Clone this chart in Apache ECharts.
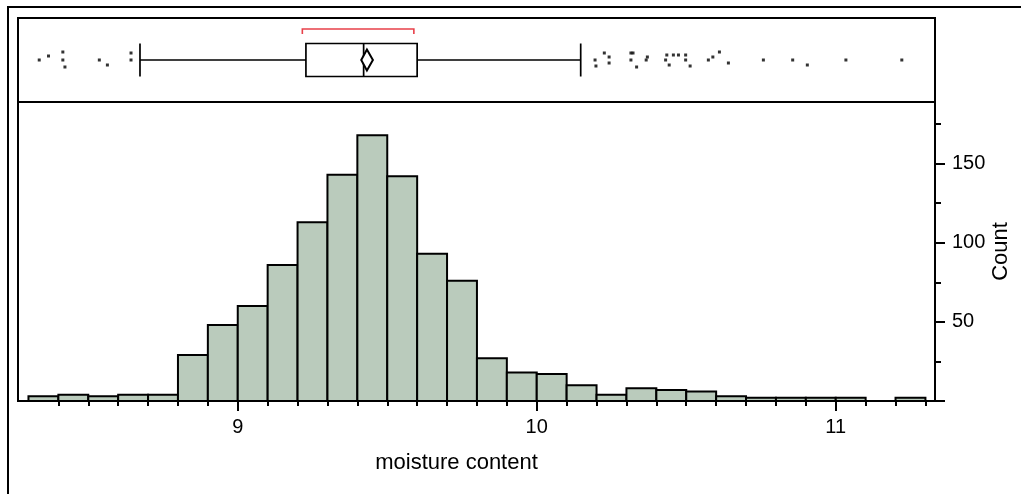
<!DOCTYPE html>
<html>
<head>
<meta charset="utf-8">
<title>moisture content</title>
<script src="https://cdn.jsdelivr.net/npm/echarts@6/dist/echarts.min.js"></script>
<style>
html, body { margin: 0; padding: 0; background: #fff; }
#main { width: 1021px; height: 494px; }
</style>
</head>
<body>
<div id="main"></div>
<script>
// histogram: left edge of each bin, bin width and counts
const binStarts = [8.3, 8.4, 8.5, 8.6, 8.7, 8.8, 8.9, 9.0, 9.1, 9.2, 9.3, 9.4, 9.5, 9.6, 9.7,
  9.8, 9.9, 10.0, 10.1, 10.2, 10.3, 10.4, 10.5, 10.6, 10.7, 10.8, 10.9, 11.0, 11.1, 11.2]
const binWidth = 0.1
const counts = [3, 4, 3, 4, 4, 29, 48, 60, 86, 113, 143, 168, 142, 93, 76,
  27, 18, 17, 10, 4, 8, 7, 6, 3, 2, 2, 2, 2, 0, 2]

// box plot: whisker low, Q1, median, Q3, whisker high
const boxStats = [8.673, 9.228, 9.421, 9.600, 10.147]
const meanValue = 9.432
const meanCI = [9.413, 9.452]
const shortestHalf = [9.216, 9.589]

// outliers: [value, vertical jitter]
const outliers = [
  [8.336, 0], [8.367, 4], [8.415, 8], [8.415, 0], [8.422, -7], [8.537, 0], [8.564, -5], [8.643, 7], [8.643, 0],
  [10.195, 0], [10.198, -6], [10.226, 7], [10.242, 3], [10.242, -3], [10.315, 7], [10.322, 7], [10.315, 0],
  [10.334, -7], [10.366, 0], [10.370, 3], [10.435, 5], [10.431, 0], [10.443, -5], [10.457, 5], [10.474, 5],
  [10.498, 5], [10.498, 0], [10.513, -6], [10.574, 0], [10.589, 3], [10.611, 8], [10.641, -3], [10.758, 0],
  [10.856, 0], [10.905, -5], [11.034, 0], [11.221, 0]
]

// axis ticks
const xMajorTicks = [9, 10, 11]
const xMinorTicks = [8.4, 8.5, 8.6, 8.7, 8.8, 8.9, 9.1, 9.2, 9.3, 9.4, 9.5, 9.6, 9.7, 9.8, 9.9,
  10.1, 10.2, 10.3, 10.4, 10.5, 10.6, 10.7, 10.8, 10.9, 11.1, 11.2, 11.3]
const yLabelTicks = [50, 100, 150]
const yMajorTicks = [0, 50, 100, 150]
const yMinorTicks = [25, 75, 125, 175]

const xMin = 8.265
const xMax = 11.332
const font = '"Liberation Sans", Arial, sans-serif'
const black = '#000'

const chart = echarts.init(document.getElementById('main'))

const option = {
  animation: false,
  graphic: [
    {
      type: 'rect',
      silent: true,
      shape: { x: 8, y: 7, width: 1100, height: 600 },
      style: { fill: 'none', stroke: black, lineWidth: 2 }
    }
  ],
  grid: [
    { left: 18, top: 18, width: 917, height: 84, show: true, borderColor: black, borderWidth: 2, outerBoundsMode: 'none' },
    { left: 18, top: 102, width: 917, height: 299, show: true, borderColor: black, borderWidth: 2, outerBoundsMode: 'none' }
  ],
  xAxis: [
    { gridIndex: 0, type: 'value', min: xMin, max: xMax, show: false },
    {
      gridIndex: 1,
      type: 'value',
      position: 'bottom',
      min: xMin,
      max: xMax,
      axisLine: { show: true, onZero: false, lineStyle: { color: black, width: 2 } },
      axisTick: { show: true, customValues: xMinorTicks, length: 5, lineStyle: { color: black, width: 2 } },
      axisLabel: { show: false },
      splitLine: { show: false }
    },
    {
      gridIndex: 1,
      type: 'value',
      position: 'bottom',
      min: xMin,
      max: xMax,
      axisLine: { show: false, onZero: false },
      axisTick: { show: true, customValues: xMajorTicks, length: 10, lineStyle: { color: black, width: 2 } },
      axisLabel: { customValues: xMajorTicks, color: black, fontSize: 20, fontFamily: font, margin: 16 },
      splitLine: { show: false },
      name: 'moisture content',
      nameLocation: 'middle',
      nameGap: 51,
      nameTextStyle: { color: black, fontSize: 22, fontFamily: font, padding: [0, 40, 0, 0] }
    }
  ],
  yAxis: [
    { gridIndex: 0, type: 'category', data: ['moisture content'], show: false },
    { gridIndex: 0, type: 'value', min: -42, max: 42, show: false },
    {
      gridIndex: 1,
      type: 'value',
      position: 'right',
      min: 0,
      max: 189,
      axisLine: { show: true, onZero: false, lineStyle: { color: black, width: 2 } },
      axisTick: { show: true, customValues: yMinorTicks, length: 6, lineStyle: { color: black, width: 2 } },
      axisLabel: { show: false },
      splitLine: { show: false }
    },
    {
      gridIndex: 1,
      type: 'value',
      position: 'right',
      min: 0,
      max: 189,
      axisLine: { show: false, onZero: false },
      axisTick: { show: true, customValues: yMajorTicks, length: 10, lineStyle: { color: black, width: 2 } },
      axisLabel: { customValues: yLabelTicks, color: black, fontSize: 20, fontFamily: font, margin: 17 },
      splitLine: { show: false },
      name: 'Count',
      nameLocation: 'middle',
      nameGap: 55,
      nameMoveOverlap: false,
      nameTextStyle: { color: black, fontSize: 22, fontFamily: font }
    }
  ],
  series: [
    {
      type: 'custom',
      xAxisIndex: 1,
      yAxisIndex: 2,
      data: binStarts.map((s, i) => [s, s + binWidth, counts[i]]),
      encode: { x: [0, 1], y: 2 },
      renderItem: function(params, api) {
        if (!api.value(2)) return null
        const p0 = api.coord([api.value(0), 0])
        const p1 = api.coord([api.value(1), api.value(2)])
        return {
          type: 'rect',
          shape: { x: p0[0], y: p1[1], width: p1[0] - p0[0], height: p0[1] - p1[1] },
          style: { fill: '#bacbbc', stroke: black, lineWidth: 2 }
        }
      }
    },
    {
      type: 'boxplot',
      xAxisIndex: 0,
      yAxisIndex: 0,
      layout: 'horizontal',
      boxWidth: [33, 33],
      data: [boxStats],
      itemStyle: { color: '#fff', borderColor: black, borderWidth: 1.7 }
    },
    {
      // mean diamond
      type: 'custom',
      xAxisIndex: 0,
      yAxisIndex: 1,
      z: 5,
      data: [[meanCI[0], meanValue, meanCI[1], 0]],
      encode: { x: [0, 1, 2], y: 3 },
      renderItem: function(params, api) {
        const h = 10.5
        const pts = [
          api.coord([api.value(0), 0]),
          api.coord([api.value(1), h]),
          api.coord([api.value(2), 0]),
          api.coord([api.value(1), -h])
        ]
        return { type: 'polygon', shape: { points: pts }, style: { fill: '#fff', stroke: black, lineWidth: 2 } }
      }
    },
    {
      // shortest half bracket
      type: 'custom',
      xAxisIndex: 0,
      yAxisIndex: 1,
      data: [[shortestHalf[0], shortestHalf[1], 0]],
      encode: { x: [0, 1], y: 2 },
      renderItem: function(params, api) {
        const pts = [
          api.coord([api.value(0), 26]),
          api.coord([api.value(0), 31]),
          api.coord([api.value(1), 31]),
          api.coord([api.value(1), 26])
        ]
        return { type: 'polyline', shape: { points: pts }, style: { fill: 'none', stroke: '#e8404a', lineWidth: 1.6 } }
      }
    },
    {
      type: 'scatter',
      xAxisIndex: 0,
      yAxisIndex: 1,
      symbol: 'rect',
      symbolSize: 3,
      data: outliers,
      itemStyle: { color: black }
    }
  ]
}

chart.setOption(option)
</script>
</body>
</html>
